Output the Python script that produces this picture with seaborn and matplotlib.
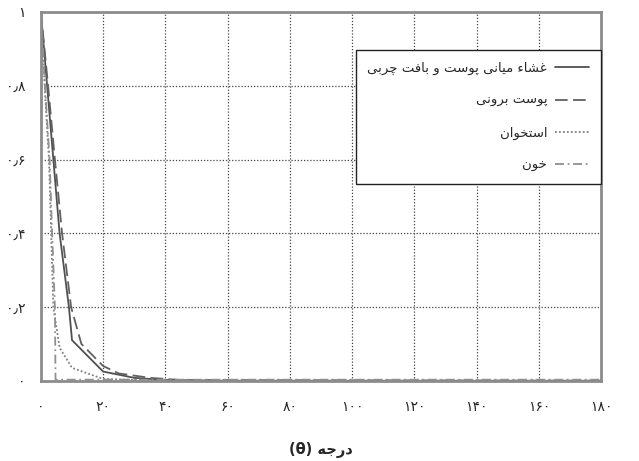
import matplotlib
matplotlib.use("Agg")
import matplotlib.pyplot as plt
import pandas as pd
import seaborn as sns

# --- data (theta in degrees, normalised value) ---
theta_fat = [0, 2, 4, 6, 9, 10, 20, 30, 40, 60, 180]
val_fat = [1.0, 0.8, 0.6, 0.4, 0.2, 0.11, 0.025, 0.008, 0.002, 0.0, 0.0]

theta_skin = [0, 2.3, 4.5, 6.8, 9.7, 13, 20, 25, 35, 45, 180]
val_skin = [1.0, 0.8, 0.6, 0.4, 0.2, 0.1, 0.04, 0.02, 0.008, 0.002, 0.0]

theta_bone = [0, 1.2, 2.6, 3.3, 4.0, 6.0, 10, 20, 40, 180]
val_bone = [1.0, 0.8, 0.6, 0.4, 0.2, 0.09, 0.035, 0.005, 0.0, 0.0]

theta_blood = [0, 1.3, 2.8, 3.6, 4.5, 4.7, 180]
val_blood = [1.0, 0.8, 0.6, 0.4, 0.2, 0.003, 0.003]

x_ticks = [0, 20, 40, 60, 80, 100, 120, 140, 160, 180]
x_tick_labels = ["۰", "۲۰", "۴۰", "۶۰", "۸۰", "۱۰۰", "۱۲۰", "۱۴۰", "۱۶۰", "۱۸۰"]
y_ticks = [0, 0.2, 0.4, 0.6, 0.8, 1.0]
y_tick_labels = ["۰", "۰٫۲", "۰٫۴", "۰٫۶", "۰٫۸", "۱"]

labels = ["غشاء میانی پوست و بافت چربی", "پوست برونی", "استخوان", "خون"]
x_label_word = "درجه"

# --- minimal Arabic/Persian shaping: matplotlib does not join letters itself ---
FORMS = {
    "ا": ("\uFE8D", "\uFE8E", None, None),
    "ء": ("\uFE80", None, None, None),
    "ب": ("\uFE8F", "\uFE90", "\uFE91", "\uFE92"),
    "ت": ("\uFE95", "\uFE96", "\uFE97", "\uFE98"),
    "ج": ("\uFE9D", "\uFE9E", "\uFE9F", "\uFEA0"),
    "خ": ("\uFEA5", "\uFEA6", "\uFEA7", "\uFEA8"),
    "د": ("\uFEA9", "\uFEAA", None, None),
    "ر": ("\uFEAD", "\uFEAE", None, None),
    "س": ("\uFEB1", "\uFEB2", "\uFEB3", "\uFEB4"),
    "ش": ("\uFEB5", "\uFEB6", "\uFEB7", "\uFEB8"),
    "غ": ("\uFECD", "\uFECE", "\uFECF", "\uFED0"),
    "ف": ("\uFED1", "\uFED2", "\uFED3", "\uFED4"),
    "م": ("\uFEE1", "\uFEE2", "\uFEE3", "\uFEE4"),
    "ن": ("\uFEE5", "\uFEE6", "\uFEE7", "\uFEE8"),
    "ه": ("\uFEE9", "\uFEEA", "\uFEEB", "\uFEEC"),
    "و": ("\uFEED", "\uFEEE", None, None),
    "ی": ("\uFBFC", "\uFBFD", "\uFBFE", "\uFBFF"),
    "پ": ("\uFB56", "\uFB57", "\uFB58", "\uFB59"),
    "چ": ("\uFB7A", "\uFB7B", "\uFB7C", "\uFB7D"),
}


def joins_next(ch):
    return ch in FORMS and FORMS[ch][2] is not None


def joins_prev(ch):
    return ch in FORMS and FORMS[ch][1] is not None


def shape(text):
    """Return visually ordered, joined glyphs for an all-RTL string."""
    out = []
    for i, ch in enumerate(text):
        if ch not in FORMS:
            out.append(ch)
            continue
        prev_ch = text[i - 1] if i > 0 else ""
        next_ch = text[i + 1] if i + 1 < len(text) else ""
        p = joins_next(prev_ch) and joins_prev(ch)
        n = joins_next(ch) and joins_prev(next_ch)
        iso, fin, ini, med = FORMS[ch]
        if p and n:
            out.append(med)
        elif p:
            out.append(fin)
        elif n:
            out.append(ini)
        else:
            out.append(iso)
    return "".join(reversed(out))


sns.set_theme(style="white")
plt.rcParams["font.family"] = ["DejaVu Sans"]

fig = plt.figure(figsize=(6.39, 4.61), dpi=100)
ax = fig.add_axes([0.064, 0.174, 0.877, 0.800])

series = [
    (theta_fat, val_fat, "-", "#505050", labels[0]),
    (theta_skin, val_skin, (0, (7, 3)), "#606060", labels[1]),
    (theta_bone, val_bone, (0, (1, 1.2)), "#808080", labels[2]),
    (theta_blood, val_blood, (0, (5, 2, 1, 2)), "#909090", labels[3]),
]

for xs, ys, ls, color, lab in series:
    df = pd.DataFrame({"theta": xs, "value": ys})
    sns.lineplot(data=df, x="theta", y="value", ax=ax, color=color,
                 linestyle=ls, linewidth=1.3, label=shape(lab), sort=False)

ax.set_xlim(0, 180)
ax.set_ylim(0, 1)
ax.set_xticks(x_ticks)
ax.set_xticklabels(x_tick_labels, fontsize=10)
ax.set_yticks(y_ticks)
ax.set_yticklabels(y_tick_labels, fontsize=10)
ax.tick_params(axis="x", length=0, pad=14)
ax.tick_params(axis="y", length=0, pad=11)
ax.grid(True, linestyle=(0, (1, 1.5)), color="#444444", linewidth=0.9)
for sp in ax.spines.values():
    sp.set_color("#8c8c8c")
    sp.set_linewidth(2)

ax.set_xlabel("(θ) " + shape(x_label_word), fontsize=10.5, fontweight="bold",
              labelpad=20)
ax.set_ylabel("")

leg = ax.legend(loc="upper right", bbox_to_anchor=(1.0, 0.897),
                borderaxespad=0, markerfirst=False, frameon=True,
                fancybox=False, labelspacing=1.45, handlelength=2.6,
                handletextpad=0.6, borderpad=0.9, framealpha=1,
                prop={"family": "DejaVu Sans", "size": 9.5})
leg.get_frame().set_edgecolor("#222222")
leg.get_frame().set_linewidth(1.0)

fig.savefig("out.png", dpi=100)
